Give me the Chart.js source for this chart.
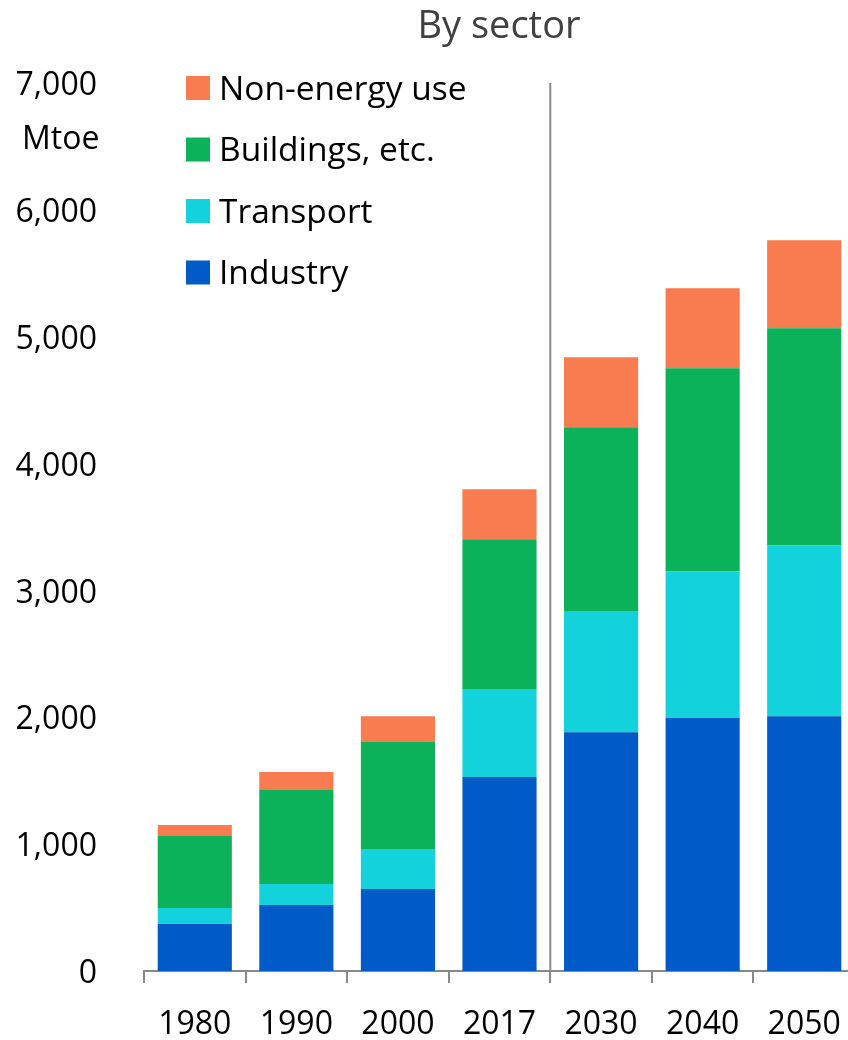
<!DOCTYPE html>
<html>
<head>
<meta charset="utf-8">
<script src="https://cdn.jsdelivr.net/npm/chart.js@4.4.1/dist/chart.umd.min.js"></script>
<style>
  html, body { margin: 0; padding: 0; background: #fff; overflow: hidden; }
  #wrap { width: 856px; height: 1040px; position: relative; }
</style>
</head>
<body>
<div id="wrap"><canvas id="c" width="856" height="1040"></canvas></div>
<script>
const categories = ['1980', '1990', '2000', '2017', '2030', '2040', '2050'];
const industry   = [370, 520, 646, 1529, 1883, 1994, 2009];
const transport  = [126, 166, 315, 693, 954, 1158, 1348];
const buildings  = [568, 740, 844, 1182, 1450, 1600, 1710];
const nonEnergy  = [86, 142, 204, 394, 551, 630, 693];
const yTicks     = [0, 1000, 2000, 3000, 4000, 5000, 6000, 7000];
const titleText  = 'By sector';
const unitText   = 'Mtoe';

const FONT = '"Open Sans", "Noto Sans", sans-serif';
const colors = { industry: '#005BC8', transport: '#14D2DC', buildings: '#0BB259', nonEnergy: '#F97B50' };

const extras = {
  id: 'extras',
  afterDraw(chart) {
    const ctx = chart.ctx;
    const x = chart.scales.x;
    const area = chart.chartArea;
    ctx.save();
    // separator between history and projections
    const sx = (x.getPixelForValue(3) + x.getPixelForValue(4)) / 2;
    ctx.strokeStyle = '#888888';
    ctx.lineWidth = 2;
    ctx.beginPath();
    ctx.moveTo(sx, area.top);
    ctx.lineTo(sx, area.bottom);
    ctx.stroke();
    // title
    ctx.fillStyle = '#404040';
    ctx.font = '38px ' + FONT;
    ctx.textAlign = 'center';
    ctx.textBaseline = 'middle';
    ctx.fillText(titleText, 499, 27);
    // unit
    ctx.fillStyle = '#000';
    ctx.font = '32px ' + FONT;
    ctx.textAlign = 'left';
    ctx.fillText(unitText, 22, 140);
    // legend (reverse order)
    ctx.font = '33.5px ' + FONT;
    const items = chart.data.datasets.slice().reverse();
    items.forEach((ds, i) => {
      const cy = 88 + i * 61.5;
      ctx.fillStyle = ds.backgroundColor;
      ctx.fillRect(186, cy - 12, 24, 24);
      ctx.fillStyle = '#000';
      ctx.fillText(ds.label, 219, cy + 2);
    });
    ctx.restore();
  }
};

new Chart(document.getElementById('c'), {
  type: 'bar',
  data: {
    labels: categories,
    datasets: [
      { label: 'Industry', data: industry, backgroundColor: colors.industry },
      { label: 'Transport', data: transport, backgroundColor: colors.transport },
      { label: 'Buildings, etc.', data: buildings, backgroundColor: colors.buildings },
      { label: 'Non-energy use', data: nonEnergy, backgroundColor: colors.nonEnergy }
    ]
  },
  options: {
    responsive: false,
    animation: false,
    devicePixelRatio: 1,
    layout: { padding: { top: 83, right: 1, bottom: 0, left: 0 } },
    datasets: { bar: { categoryPercentage: 1, barPercentage: 0.73, borderWidth: 0 } },
    plugins: { legend: { display: false }, title: { display: false }, tooltip: { enabled: false } },
    scales: {
      x: {
        stacked: true,
        offset: true,
        border: { display: true, color: '#888888', width: 2 },
        grid: { display: true, offset: true, drawOnChartArea: false, drawTicks: true, tickLength: 12, color: '#888888', lineWidth: 2 },
        ticks: { color: '#000', font: { family: FONT, size: 32 }, padding: 23, maxRotation: 0 },
        afterFit(s) { s.height = 69; s.paddingLeft = 0; s.paddingRight = 0; }
      },
      y: {
        stacked: true,
        min: 0, max: 7000,
        afterBuildTicks(s) { s.ticks = yTicks.map(v => ({ value: v })); },
        border: { display: false },
        grid: { display: false, drawTicks: false },
        ticks: {
          color: '#000', font: { family: FONT, size: 32 }, padding: 47, labelOffset: 3,
          callback: v => v.toLocaleString('en-US')
        },
        afterFit(s) { s.width = 144; s.paddingTop = 0; s.paddingBottom = 0; }
      }
    }
  },
  plugins: [extras]
});
</script>
</body>
</html>
